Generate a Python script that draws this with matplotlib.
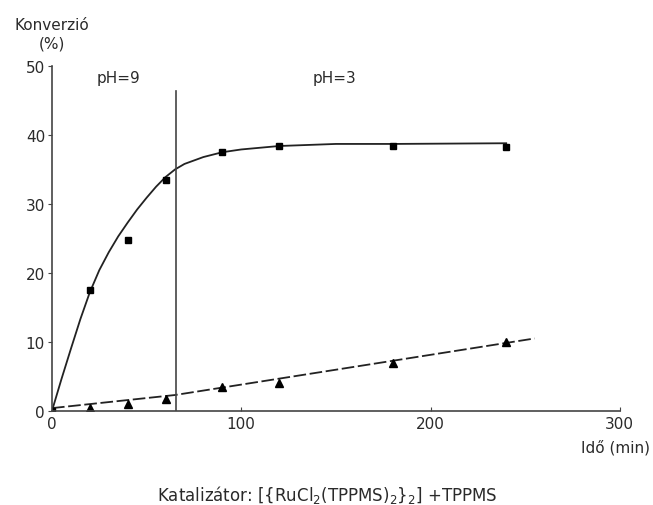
import matplotlib.pyplot as plt

plt.rcParams['font.family'] = ['DejaVu Sans']
plt.rcParams['mathtext.fontset'] = 'dejavusans'
plt.rcParams['text.color'] = '#2a2a2a'
plt.rcParams['xtick.labelcolor'] = '#2a2a2a'
plt.rcParams['ytick.labelcolor'] = '#2a2a2a'

# measured points (time in min, conversion in %)
time_pts = [0, 20, 40, 60, 90, 120, 180, 240]
conv_sq = [0, 17.5, 24.8, 33.5, 37.5, 38.4, 38.4, 38.2]
conv_tri = [0, 0.4, 1.0, 1.7, 3.5, 4.0, 7.0, 10.0]

# fitted curves
fit_x = [0, 5, 10, 15, 20, 25, 30, 35, 40, 45, 50, 55, 60, 65, 70, 80, 90, 100, 120, 150, 180, 240]
fit_sq = [0, 4.6, 9.0, 13.3, 17.2, 20.4, 23.0, 25.3, 27.3, 29.2, 30.9, 32.5, 33.9, 35.0,
          35.8, 36.8, 37.5, 37.9, 38.4, 38.7, 38.7, 38.8]
lin_x = [0, 65, 255]
lin_tri = [0.4, 2.3, 10.5]

switch_t = 65.5

fig = plt.figure(figsize=(6.53, 5.06), dpi=100)
ax = fig.add_axes([0.0796, 0.186, 0.8695, 0.6816])

col = '#222222'
ax.plot(fit_x, fit_sq, '-', color=col, lw=1.3)
ax.plot(lin_x, lin_tri, color=col, lw=1.3, dashes=(7, 2))
ax.plot(time_pts, conv_sq, 's', color='black', ms=5)
ax.plot(time_pts, conv_tri, '^', color='black', ms=6)
ax.plot([switch_t, switch_t], [0, 46.4], color='#444444', lw=1.2)

ax.set_xlim(0, 300)
ax.set_ylim(0, 50)
ax.set_xticks([0, 100, 200, 300])
ax.set_yticks([0, 10, 20, 30, 40, 50])
for s in ['top', 'right']:
    ax.spines[s].set_visible(False)
for s in ['left', 'bottom']:
    ax.spines[s].set_color('#444444')
    ax.spines[s].set_linewidth(1.2)
ax.tick_params(axis='y', direction='out', length=3, labelsize=11, pad=2, color='#444444')
ax.tick_params(axis='x', direction='in', length=3, labelsize=11, pad=4, color='#444444')

fig.text(52 / 653, 1 - 25 / 506, 'Konverzió', ha='center', va='center', fontsize=11)
fig.text(52 / 653, 1 - 44 / 506, '(%)', ha='center', va='center', fontsize=11)
fig.text(119 / 653, 1 - 78 / 506, 'pH=9', ha='center', va='center', fontsize=11)
fig.text(335 / 653, 1 - 78 / 506, 'pH=3', ha='center', va='center', fontsize=11)
fig.text(650 / 653, 1 - 448 / 506, 'Idő (min)', ha='right', va='center', fontsize=11)
fig.text(327 / 653, 1 - 495 / 506, 'Katalizátor: [{RuCl$_2$(TPPMS)$_2$}$_2$] +TPPMS',
         ha='center', va='center', fontsize=12)

plt.savefig('out.png', dpi=100)
